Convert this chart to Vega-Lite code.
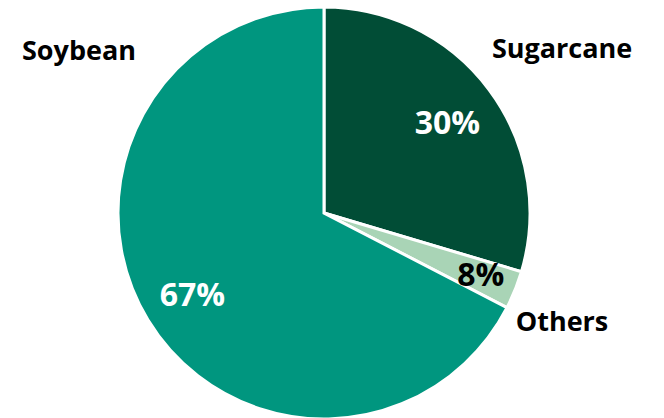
{
  "$schema": "https://vega.github.io/schema/vega-lite/v6.json",
  "width": 664,
  "height": 418,
  "autosize": {"type": "fit", "contains": "padding"},
  "padding": {"left": 0, "right": 16, "top": 8, "bottom": 0},
  "background": "white",
  "view": {"stroke": null},
  "data": {
    "values": [
      {"crop": "Sugarcane", "share": 29.6, "label": "30%", "rank": 1},
      {"crop": "Others", "share": 3.0, "label": "8%", "rank": 2},
      {"crop": "Soybean", "share": 67.4, "label": "67%", "rank": 3}
    ]
  },
  "encoding": {
    "theta": {"field": "share", "type": "quantitative", "stack": true},
    "order": {"field": "rank", "type": "quantitative"}
  },
  "layer": [
    {
      "mark": {"type": "arc", "outerRadius": 206, "stroke": "white", "strokeWidth": 3},
      "encoding": {
        "color": {
          "field": "crop",
          "type": "nominal",
          "scale": {"domain": ["Sugarcane", "Others", "Soybean"], "range": ["#014D36", "#A9D4B6", "#00967F"]},
          "legend": null
        }
      }
    },
    {
      "mark": {"type": "text", "radius": 154, "dy": 3, "font": "Open Sans", "fontWeight": "bold", "fontSize": 32, "fill": "white", "baseline": "middle", "align": "center"},
      "encoding": {
        "text": {"condition": {"test": "datum.crop == 'Others'", "value": ""}, "field": "label"}
      }
    },
    {
      "mark": {"type": "text", "radius": 169, "font": "Open Sans", "fontWeight": "bold", "fontSize": 32, "fill": "black", "baseline": "middle", "align": "center"},
      "encoding": {
        "text": {"condition": {"test": "datum.crop != 'Others'", "value": ""}, "field": "label"}
      }
    },
    {
      "mark": {"type": "text", "radius": 287, "dx": 8, "dy": 9, "font": "Open Sans", "fontWeight": "bold", "fontSize": 27, "fill": "black", "baseline": "middle", "align": "center"},
      "encoding": {
        "text": {"condition": {"test": "datum.crop != 'Sugarcane'", "value": ""}, "field": "crop"}
      }
    },
    {
      "mark": {"type": "text", "radius": 262, "dx": -5, "dy": 12, "font": "Open Sans", "fontWeight": "bold", "fontSize": 27, "fill": "black", "baseline": "middle", "align": "center"},
      "encoding": {
        "text": {"condition": {"test": "datum.crop != 'Others'", "value": ""}, "field": "crop"}
      }
    },
    {
      "mark": {"type": "text", "radius": 0, "dx": -245, "dy": -161, "font": "Open Sans", "fontWeight": "bold", "fontSize": 27, "fill": "black", "baseline": "middle", "align": "center"},
      "encoding": {
        "text": {"condition": {"test": "datum.crop != 'Soybean'", "value": ""}, "field": "crop"}
      }
    }
  ]
}
